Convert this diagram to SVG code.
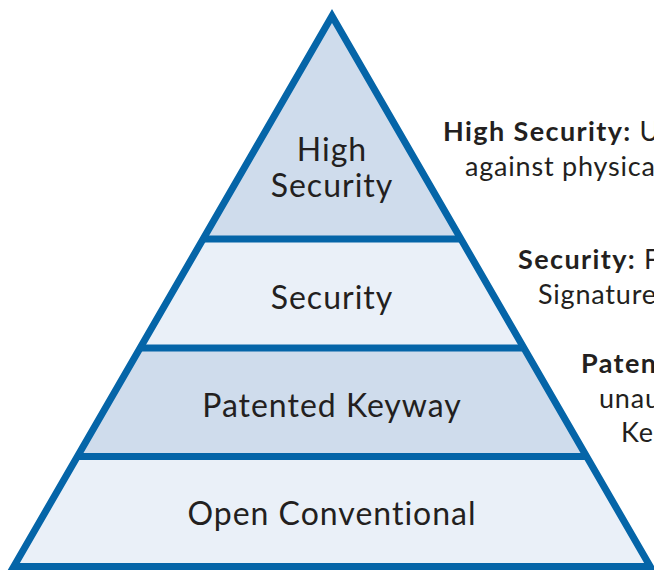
<svg xmlns="http://www.w3.org/2000/svg" width="654" height="570" viewBox="0 0 654 570">
<style>
.dark{fill:#cfdcec}
.light{fill:#eaf0f8}
.edge{fill:none;stroke:#0565a8;stroke-width:7;stroke-linejoin:miter;stroke-miterlimit:10}
.lbl{font-family:Lato,"Open Sans",sans-serif;font-size:32px;letter-spacing:1px;fill:#231f20;text-anchor:middle}
.side{font-family:Lato,"Open Sans",sans-serif;font-size:27px;letter-spacing:0.8px;fill:#231f20}
.b{font-weight:bold;letter-spacing:1.4px}
</style>
<rect width="654" height="570" fill="#ffffff"/>
<g id="tier-high-security">
<polygon class="dark" points="332,16 460.9,239 203.1,239"/>
<text class="lbl" x="332" y="161">High</text>
<text class="lbl" x="332" y="197">Security</text>
</g>
<g id="tier-security">
<polygon class="light" points="203.1,239 460.9,239 523.9,348 140.1,348"/>
<text class="lbl" x="332" y="309">Security</text>
</g>
<g id="tier-patented-keyway">
<polygon class="dark" points="140.1,348 523.9,348 586.6,456.5 77.4,456.5"/>
<text class="lbl" x="332" y="417">Patented Keyway</text>
</g>
<g id="tier-open-conventional">
<polygon class="light" points="77.4,456.5 586.6,456.5 650.2,566.5 13.8,566.5"/>
<text class="lbl" x="332" y="525">Open Conventional</text>
</g>
<g id="connectors">
<polygon class="edge" points="332,16 650.2,566.5 13.8,566.5"/>
<line class="edge" x1="203.1" y1="239" x2="460.9" y2="239"/>
<line class="edge" x1="140.1" y1="348" x2="523.9" y2="348"/>
<line class="edge" x1="77.4" y1="456.5" x2="586.6" y2="456.5"/>
</g>
<g id="desc-high-security">
<text class="side" x="443" y="141"><tspan class="b">High Security:</tspan> U</text>
<text class="side" x="465" y="176">against physica</text>
</g>
<g id="desc-security">
<text class="side" x="518" y="269"><tspan class="b">Security:</tspan> F</text>
<text class="side" x="538" y="304">Signature</text>
</g>
<g id="desc-patented">
<text class="side b" x="581" y="373">Paten</text>
<text class="side" x="599" y="408">unau</text>
<text class="side" x="621" y="442">Ke</text>
</g>
</svg>
